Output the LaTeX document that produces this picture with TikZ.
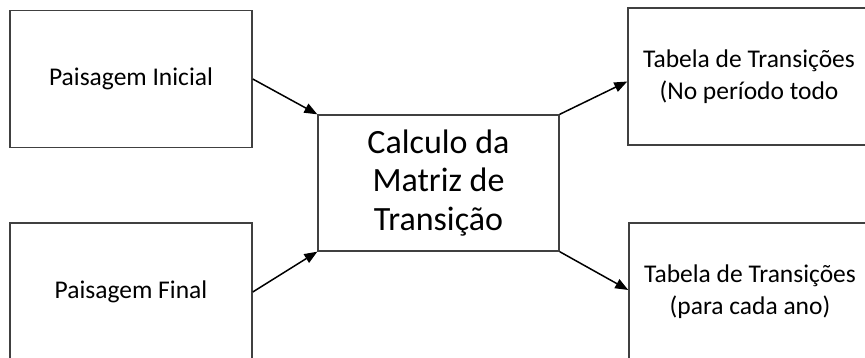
\documentclass[tikz,border=0pt]{standalone}
\usepackage{fontspec}
\setmainfont{Carlito}
\usepackage{tikz}
\usetikzlibrary{arrows.meta,positioning}

\definecolor{boxline}{HTML}{404040}

\begin{document}
\begin{tikzpicture}[
    x=1pt, y=-1pt,
    box/.style={rectangle, draw=boxline, line width=1.5pt, minimum width=242pt, minimum height=137pt, align=center, inner sep=0pt, font=\fontsize{25.5}{32}\selectfont},
    calcbox/.style={rectangle, draw=boxline, line width=1.3pt, minimum width=241pt, minimum height=136pt, align=center, inner sep=0pt, font=\fontsize{34}{38.5}\selectfont},
    arrow/.style={-{Triangle[length=13pt,width=10pt]}, line width=1.5pt, black},
]
\useasboundingbox (0,0) rectangle (865,358);
\clip (0,0) rectangle (865,358);

% Inputs
\node[box] (inicial) at (131,79) {Paisagem Inicial};
\node[box, minimum height=138pt] (final) at (131,292) {Paisagem Final};

% Matrix
\node[calcbox] (calculo) at (438.5,183) {Calculo da\\ Matriz de\\ Transição};

% Outputs
\node[box] (periodo) at (749,76.5) {Tabela de Transições\\ (No período todo};
\node[box, minimum height=138pt] (anual) at (750,292) {Tabela de Transições\\ (para cada ano)};

\draw[arrow] (inicial.east) -- (calculo.north west);
\draw[arrow] (final.east) -- (calculo.south west);
\draw[arrow] (calculo.north east) -- ([yshift=-5pt]periodo.west);
\draw[arrow] (calculo.south east) -- ([yshift=2pt]anual.west);

\end{tikzpicture}
\end{document}
